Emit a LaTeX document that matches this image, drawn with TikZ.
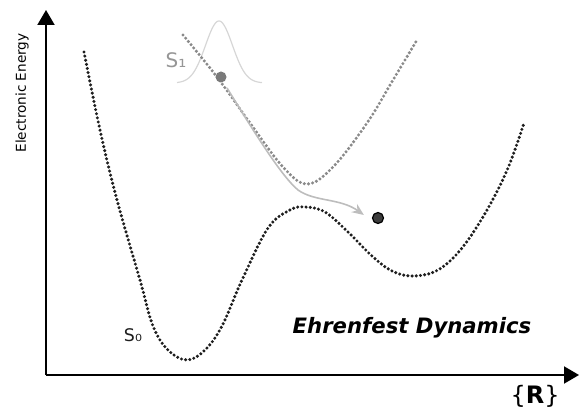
\documentclass[tikz,border=0pt]{standalone}
\usepackage{fontspec}
\setmainfont{DejaVu Sans}
\usetikzlibrary{arrows.meta}
\definecolor{szero}{HTML}{1E1E1E}
\definecolor{sone}{HTML}{8A8A8A}
\definecolor{gauss}{HTML}{D6D6D6}
\definecolor{traj}{HTML}{BDBDBD}
\definecolor{gdot}{HTML}{7A7A7A}
\definecolor{ddot}{HTML}{3C3C3C}
\tikzset{
  axis/.style={line width=1pt,-{Triangle[length=7.5pt,width=8.5pt]}},
  dotcurve/.style={line width=1.7pt,line cap=round,dash pattern=on 0pt off 2.1pt},
  lbl/.style={inner sep=0pt,anchor=center},
}
\begin{document}
\begin{tikzpicture}[x=0.5pt,y=-0.5pt]
\useasboundingbox (0,0) rectangle (582,410);
% axes
\coordinate (o) at (46,375);
\coordinate (ytip) at (46,10);
\coordinate (xtip) at (579,375);
\draw[axis] (o) -- (ytip);
\draw[axis] (o) -- (xtip);
\node[lbl,rotate=90,font=\fontsize{6.8pt}{8pt}\selectfont] (ylab) at (22,93) {Electronic Energy};
\node[lbl,font=\fontsize{12pt}{14pt}\selectfont] (xlab) at (535,396) {\{\textbf{R}\}};
% gaussian
\draw[gauss,line width=0.6pt] plot[domain=177:262,samples=80,smooth] (\x,{83-62*exp(-((\x-219)/13.5)^2/2)});
% S1 curve
\draw[sone,dotcurve] plot[smooth,tension=0.6] coordinates {(183,35) (217,77) (250,123) (283,167) (307,184) (333,167) (367,123) (393,80) (417,40)};
% S0 curve
\draw[szero,dotcurve] plot[smooth,tension=0.6] coordinates {(84,52) (100,130) (117,200) (140,280) (153,326) (168,350) (187,360) (205,350) (222,326) (242,280) (268,228) (290,210) (305,207) (325,212) (348,232) (372,256) (392,271) (413,276) (438,270) (462,248) (487,210) (508,168) (524,123)};
% dots
\node[circle,fill=gdot,inner sep=0pt,minimum size=5.5pt] (g) at (221,77) {};
\node[circle,fill=ddot,draw=black,line width=0.6pt,inner sep=0pt,minimum size=5.5pt] (d) at (378,218) {};
% trajectory arrow
\draw[traj,line width=0.8pt,-{Stealth[length=6pt,width=5pt,inset=2pt]}] ([xshift=3pt,yshift=-5.5pt]g.center) .. controls (250,125) and (280,175) .. (298,190) .. controls (315,202) and (340,198) .. ([xshift=-4pt,yshift=1.5pt]d.west);
% labels
\node[lbl,text=sone!90!white,font=\fontsize{10pt}{12pt}\selectfont] (s1) at (176,60) {S₁};
\node[lbl,text=szero,font=\fontsize{8.7pt}{10pt}\selectfont] (s0) at (133,335) {S₀};
\node[lbl,font=\fontsize{10.6pt}{12pt}\selectfont\bfseries\itshape] (title) at (412,328) {Ehrenfest Dynamics};
\end{tikzpicture}
\end{document}
